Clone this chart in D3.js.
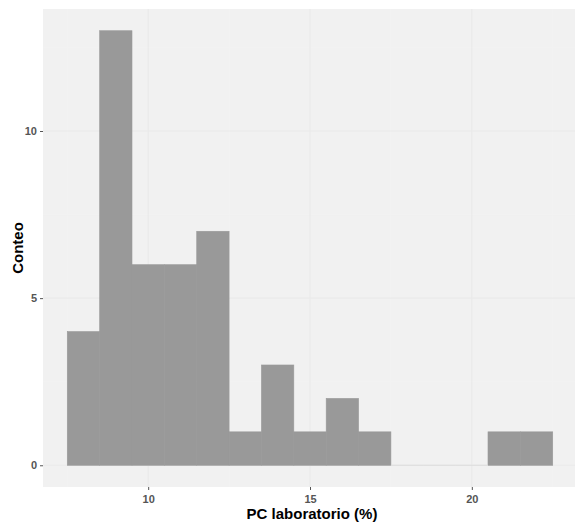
<!DOCTYPE html>
<html>
<head>
<meta charset="utf-8">
<script src="https://cdn.jsdelivr.net/npm/d3@7"></script>
<style>
  body { margin: 0; background: #fff; }
  svg { display: block; }
  text { font-family: "Liberation Sans", Arial, sans-serif; }
</style>
</head>
<body>
<svg id="chart" width="575" height="524"></svg>
<script>
// Histogram bins (PC laboratorio %, bin width 1)
const binStarts = [7.5, 8.5, 9.5, 10.5, 11.5, 12.5, 13.5, 14.5, 15.5, 16.5, 17.5, 18.5, 19.5, 20.5, 21.5];
const binWidth = 1;
const counts = [4, 13, 6, 6, 7, 1, 3, 1, 2, 1, 0, 0, 0, 1, 1];
const xTicks = [10, 15, 20];
const yTicks = [0, 5, 10];
const xLabel = "PC laboratorio (%)";
const yLabel = "Conteo";

const W = 575, H = 524;
const panel = { left: 43, right: 577, top: 9, bottom: 487 };

const xMin = d3.min(binStarts), xMax = d3.max(binStarts) + binWidth;
const xPad = (xMax - xMin) * 0.05;
const yMax = d3.max(counts);
const yPad = yMax * 0.05;

const x = d3.scaleLinear().domain([xMin - xPad, xMax + xPad]).range([panel.left, panel.right]);
const y = d3.scaleLinear().domain([-yPad, yMax + yPad]).range([panel.bottom, panel.top]);

const svg = d3.select("#chart");

svg.append("rect")
  .attr("x", panel.left).attr("y", panel.top)
  .attr("width", panel.right - panel.left).attr("height", panel.bottom - panel.top)
  .attr("fill", "#f1f1f1");

const g = svg.append("g");

// minor grid
const xMinor = [7.5, 12.5, 17.5, 22.5];
const yMinor = [2.5, 7.5, 12.5];
g.selectAll(".xminor").data(xMinor).enter().append("line")
  .attr("x1", d => x(d)).attr("x2", d => x(d))
  .attr("y1", panel.top).attr("y2", panel.bottom)
  .attr("stroke", "#f4f4f4").attr("stroke-width", 0.6);
g.selectAll(".yminor").data(yMinor).enter().append("line")
  .attr("y1", d => y(d)).attr("y2", d => y(d))
  .attr("x1", panel.left).attr("x2", panel.right)
  .attr("stroke", "#f4f4f4").attr("stroke-width", 0.6);
// major grid
g.selectAll(".xmajor").data(xTicks).enter().append("line")
  .attr("x1", d => x(d)).attr("x2", d => x(d))
  .attr("y1", panel.top).attr("y2", panel.bottom)
  .attr("stroke", "#eaeaea").attr("stroke-width", 1.1);
g.selectAll(".ymajor").data(yTicks).enter().append("line")
  .attr("y1", d => y(d)).attr("y2", d => y(d))
  .attr("x1", panel.left).attr("x2", panel.right)
  .attr("stroke", "#eaeaea").attr("stroke-width", 1.1);

// bars
g.selectAll(".bar").data(binStarts.map((s, i) => ({ s, c: counts[i] }))).enter().append("rect")
  .attr("x", d => x(d.s))
  .attr("width", d => x(d.s + binWidth) - x(d.s))
  .attr("y", d => y(d.c))
  .attr("height", d => Math.max(0, y(0) - y(d.c)))
  .attr("fill", "#999999")
  .attr("stroke", d => d.c > 0 ? "#999999" : "none")
  .attr("stroke-width", 0.6);

// zero baseline for empty bins
g.selectAll(".zero").data(binStarts.map((s, i) => ({ s, c: counts[i] })).filter(d => d.c === 0)).enter().append("line")
  .attr("x1", d => x(d.s)).attr("x2", d => x(d.s + binWidth))
  .attr("y1", y(0)).attr("y2", y(0))
  .attr("stroke", "#dcdcdc").attr("stroke-width", 1);

// axes
const xAxis = d3.axisBottom(x).tickValues(xTicks).tickSize(3).tickPadding(5).tickFormat(d3.format("d"));
const yAxis = d3.axisLeft(y).tickValues(yTicks).tickSize(3).tickPadding(3).tickFormat(d3.format("d"));

const gx = svg.append("g").attr("transform", `translate(0,${panel.bottom})`).call(xAxis);
const gy = svg.append("g").attr("transform", `translate(${panel.left},0)`).call(yAxis);
[gx, gy].forEach(a => {
  a.select(".domain").remove();
  a.selectAll(".tick line").attr("stroke", "#555").attr("stroke-width", 1);
  a.selectAll(".tick text").attr("fill", "#555").attr("font-size", 11).attr("font-weight", "bold")
    .style("font-family", '"Liberation Sans", Arial, sans-serif');
});

svg.append("text")
  .attr("x", (panel.left + panel.right) / 2 + 2).attr("y", 519)
  .attr("text-anchor", "middle")
  .attr("font-size", 15).attr("font-weight", "bold").attr("fill", "#000")
  .text(xLabel);

svg.append("text")
  .attr("transform", `translate(23,${(panel.top + panel.bottom) / 2}) rotate(-90)`)
  .attr("text-anchor", "middle")
  .attr("font-size", 15).attr("font-weight", "bold").attr("fill", "#000")
  .text(yLabel);
</script>
</body>
</html>
